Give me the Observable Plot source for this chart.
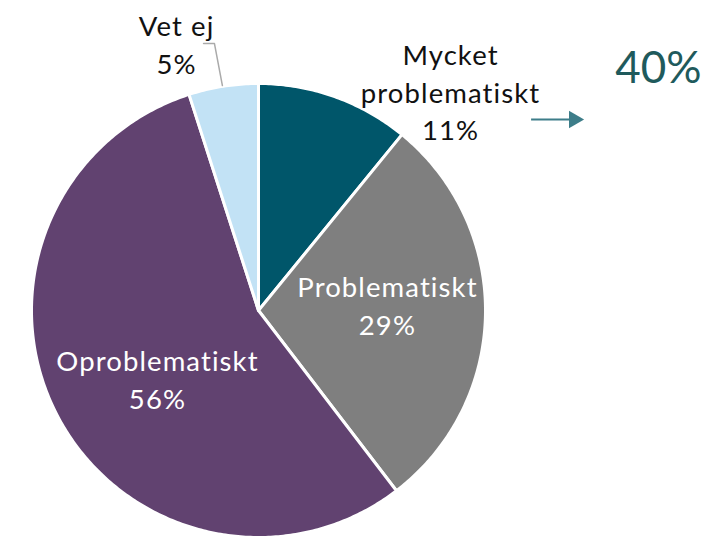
<!DOCTYPE html>
<html>
<head>
<meta charset="utf-8">
<script src="https://cdn.jsdelivr.net/npm/d3@7"></script>
<script src="https://cdn.jsdelivr.net/npm/@observablehq/plot@0.6"></script>
<style>
  body { margin: 0; background: #fff; }
  #chart svg { display: block; }
  #chart text { font-variant-ligatures: none; }
  #chart .lbl text { letter-spacing: 1.1px; }
</style>
</head>
<body>
<div id="chart"></div>
<script>
// Data
const categories = ["Mycket problematiskt", "Problematiskt", "Oproblematiskt", "Vet ej"];
const labels = ["Mycket\nproblematiskt\n11%", "Problematiskt\n29%", "Oproblematiskt\n56%", "Vet ej\n5%"];
const values = [11, 29, 56, 5];
const highlight = "40%";

const colors = ["#00566a", "#7f7f7f", "#614270", "#c2e2f5"];
const labelColors = ["#111", "#fff", "#fff", "#111"];

// pie geometry (data units, radius 1, clockwise from 12 o'clock)
const arcs = d3.pie().sort(null).value(d => d)(values);
const polys = [];
arcs.forEach((a, i) => {
  const cat = categories[i];
  polys.push({cat, x: 0, y: 0});
  const n = Math.max(8, Math.ceil((a.endAngle - a.startAngle) * 90));
  for (let k = 0; k <= n; k++) {
    const t = a.startAngle + (a.endAngle - a.startAngle) * k / n;
    polys.push({cat, x: Math.sin(t), y: Math.cos(t)});
  }
  polys.push({cat, x: 0, y: 0});
});

// label layout (data units)
const labelPos = [[0.846, 0.969], [0.568, 0.029], [-0.445, -0.297], [-0.361, 1.178]];
const labelData = labels.map((t, i) => ({t, x: labelPos[i][0], y: labelPos[i][1], c: labelColors[i]}));
const leader = [{x: -0.242, y: 1.176}, {x: -0.194, y: 1.176}, {x: -0.159, y: 0.991}];

const chart = Plot.plot({
  width: 715,
  height: 537,
  margin: 0,
  x: {domain: [-1, 1], range: [31, 485], axis: null},
  y: {domain: [-1, 1], range: [537, 83], axis: null},
  color: {domain: categories, range: colors},
  style: {fontFamily: "Lato, 'Noto Sans', sans-serif", background: "#fff", overflow: "visible"},
  marks: [
    Plot.line(polys, {x: "x", y: "y", z: "cat", fill: "cat", stroke: "#fff", strokeWidth: 3, strokeLinejoin: "round", curve: "linear"}),
    Plot.line(leader, {x: "x", y: "y", stroke: "#aaaaaa", strokeWidth: 1.5}),
    Plot.text(labelData, {x: "x", y: "y", text: "t", fill: "c", fontSize: 27.5, lineHeight: 1.36, textAnchor: "middle", lineAnchor: "middle", className: "lbl"}),
    Plot.ruleY([0.841], {x1: 1.203, x2: 1.375, stroke: "#3d7d89", strokeWidth: 2}),
    Plot.dot([0.841], {x: 1.39, y: d => d, symbol: "triangle", r: 6.5, rotate: 90, fill: "#3d7d89", stroke: "none"}),
    Plot.text([highlight], {x: 1.762, y: 1.066, text: d => d, fill: "#1f5a5c", fontSize: 44, textAnchor: "middle", lineAnchor: "middle"})
  ]
});
document.getElementById("chart").appendChild(chart);
</script>
</body>
</html>
